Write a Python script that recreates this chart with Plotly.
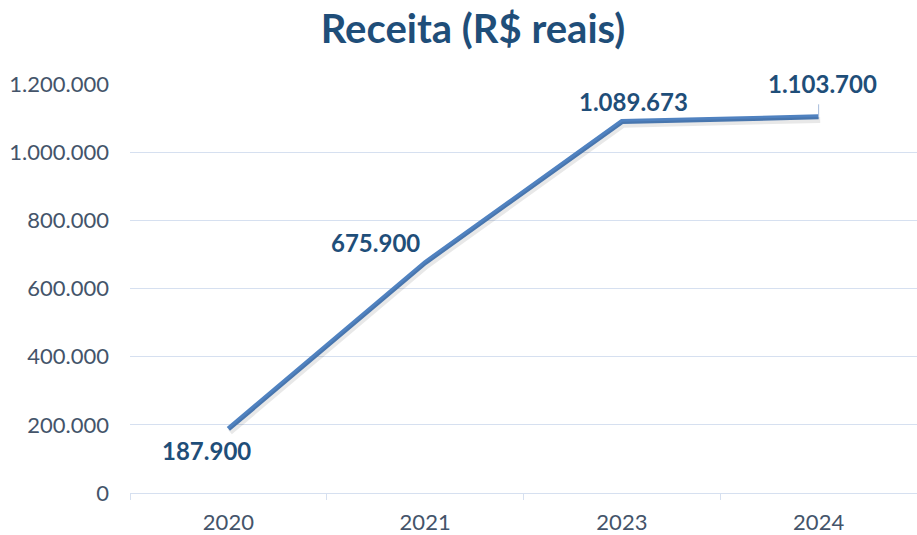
import plotly.graph_objects as go

years = ["2020", "2021", "2023", "2024"]
receita = [187900, 675900, 1089673, 1103700]
labels = ["187.900", "675.900", "1.089.673", "1.103.700"]
ytick_vals = [0, 200000, 400000, 600000, 800000, 1000000, 1200000]
ytick_text = ["0", "200.000", "400.000", "600.000", "800.000", "1.000.000", "1.200.000"]

xpos = list(range(len(years)))
FONT = "Lato, 'Open Sans', sans-serif"
fig = go.Figure()
# soft shadow (same data on an overlay axis nudged a few pixels down/right)
fig.add_trace(go.Scatter(x=xpos, y=receita, mode="lines", xaxis="x2", yaxis="y2",
                         line=dict(color="rgba(0,0,0,0.09)", width=6), hoverinfo="skip", showlegend=False))
fig.add_trace(go.Scatter(x=xpos, y=receita, mode="lines",
                         line=dict(color="#5082C0", width=5), showlegend=False))

shifts = [(-22, -22), (-50, 20), (12, 20), (4, 33)]
for xp, v, t, (dx, dy) in zip(xpos, receita, labels, shifts):
    fig.add_annotation(x=xp, y=v, text="<b>%s</b>" % t, showarrow=False, xshift=dx, yshift=dy,
                       font=dict(family=FONT, size=24, color="#1F4E79"))
fig.add_annotation(x=xpos[3], y=receita[3], ax=0, ay=-14, text="", showarrow=True,
                   arrowhead=0, arrowwidth=1, arrowcolor="#A6BBDA")

fig.update_layout(
    width=917, height=535,
    margin=dict(l=130, r=0, t=84, b=42, autoexpand=False),
    paper_bgcolor="white", plot_bgcolor="white",
    title=dict(text="<b>Receita (R$ reais)</b>", x=473 / 917, xanchor="center", xref="container",
               yref="container", y=1 - 29 / 535, yanchor="middle",
               font=dict(family=FONT, size=40, color="#1F4E79")),
    xaxis=dict(range=[-0.5, 3.5], tickvals=xpos, ticktext=years, ticks="", ticklabelstandoff=10,
               automargin=False,
               minor=dict(tick0=-0.5, dtick=1, ticks="outside", ticklen=6, tickcolor="#D6E0F0", showgrid=False),
               showline=True, linecolor="#D6E0F0", linewidth=1, showgrid=False, zeroline=False,
               tickfont=dict(family=FONT, size=22, color="#44546A")),
    xaxis2=dict(range=[-0.5 - 0.008, 3.5 - 0.008], overlaying="x", visible=False),
    yaxis=dict(range=[0, 1200000], tickvals=ytick_vals, ticktext=ytick_text, showgrid=True,
               automargin=False,
               gridcolor="#D6E0F0", zeroline=False, showline=False, ticks="", ticklabelstandoff=20,
               tickfont=dict(family=FONT, size=22, color="#44546A")),
    yaxis2=dict(range=[9000, 1209000], overlaying="y", visible=False),
)
fig.write_html("out.html")
